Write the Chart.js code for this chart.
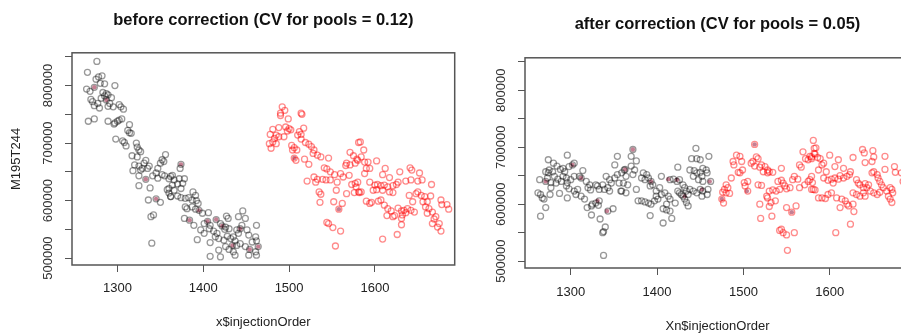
<!DOCTYPE html>
<html>
<head>
<meta charset="utf-8">
<script src="https://cdn.jsdelivr.net/npm/chart.js@4"></script>
<style>
html, body { margin: 0; padding: 0; background: #fff; overflow: hidden; }
#wrap { position: relative; width: 901px; height: 334px; overflow: hidden; }
#wrap canvas { position: absolute; top: 0; }
</style>
</head>
<body>
<div id="wrap">
  <canvas id="before" width="460" height="334" style="left:0"></canvas>
  <canvas id="after" width="460" height="334" style="left:460px"></canvas>
</div>
<script>
// [injectionOrder, M195T244 intensity in thousands]
var beforeBatch1 = [
  [1276,842],[1265,823],[1275,811],[1278,815],[1282,817],[1280,804],[1285,803],[1297,800],[1264,794],[1268,790],
  [1273,797],[1283,788],[1287,786],[1285,782],[1289,784],[1293,779],[1281,778],[1269,776],[1271,772],[1277,769],
  [1273,765],[1279,761],[1287,775],[1291,769],[1295,763],[1289,764],[1302,767],[1304,763],[1307,759],[1266,738],
  [1273,742],[1289,738],[1297,735],[1300,738],[1302,740],[1305,742],[1296,733],[1314,732],[1312,722],[1314,718],
  [1316,717],[1298,707],[1306,704],[1308,701],[1310,695],[1322,700],[1323,693],[1325,688],[1327,685],[1317,678],
  [1323,676],[1356,680],[1320,662],[1325,660],[1331,665],[1333,670],[1329,656],[1335,656],[1337,660],[1318,652],
  [1327,653],[1347,656],[1352,671],[1350,665],[1354,668],[1325,643],[1333,637],[1341,643],[1345,648],[1347,639],
  [1352,645],[1355,643],[1362,642],[1325,626],[1338,622],[1358,619],[1360,613],[1362,607],[1336,601],[1345,603],
  [1350,597],[1339,572],[1342,575],[1340,526],
  [1374,663],[1373,656],[1364,644],[1360,638],[1366,636],[1372,638],[1378,638],[1376,630],[1370,629],[1364,627],
  [1360,621],[1366,618],[1374,621],[1362,607],[1370,608],[1374,605],[1379,604],[1383,605],[1388,615],[1391,609],
  [1387,601],[1392,600],[1394,595],[1379,589],[1381,586],[1387,589],[1391,585],[1395,583],[1399,578],[1406,579],
  [1378,569],[1384,566],[1389,557],[1401,560],[1405,564],[1408,557],[1415,567],[1420,560],[1427,573],[1429,569],
  [1426,554],[1430,551],[1393,532],[1397,549],[1401,543],[1407,551],[1412,547],[1416,543],[1422,556],[1425,550],
  [1408,527],[1414,537],[1418,534],[1424,531],[1428,538],[1432,534],[1435,537],[1437,530],[1441,572],[1446,582],
  [1449,569],[1445,557],[1443,551],[1439,549],[1441,543],[1451,549],[1453,540],[1462,557],[1408,503],[1418,514],
  [1420,502],[1426,520],[1430,515],[1434,522],[1435,511],[1437,505],[1439,522],[1443,525],[1449,520],[1454,515],
  [1457,528],[1461,537],[1462,530],[1464,520],[1461,511],[1462,505],[1453,505]
];
var beforeBatch2 = [
  [1492,763],[1495,757],[1490,752],[1490,748],[1514,752],[1515,750],[1499,742],[1481,724],[1488,727],[1496,728],
  [1500,725],[1502,723],[1498,721],[1478,715],[1485,714],[1488,711],[1494,711],[1483,708],[1481,702],[1477,699],
  [1485,699],[1479,691],[1512,720],[1514,715],[1510,714],[1517,726],[1514,707],[1519,701],[1523,698],[1526,694],
  [1529,688],[1528,682],[1533,679],[1503,696],[1506,692],[1504,688],[1509,688],[1506,674],[1508,670],[1518,672],
  [1523,663],[1537,676],[1546,674],[1541,657],[1544,655],[1548,650],[1553,645],[1560,647],[1563,641],[1570,644],
  [1567,665],[1571,684],[1575,678],[1579,672],[1581,701],[1566,661],[1571,662],[1577,665],[1529,641],[1533,637],
  [1539,637],[1543,636],[1531,632],[1548,636],[1556,632],[1521,634],[1573,628],[1577,630],[1581,615],[1576,614],
  [1535,615],[1537,611],[1555,618],[1567,612],[1536,597],[1552,598],[1562,595],[1558,585],[1544,562],[1546,560],
  [1551,553],[1560,547],[1554,521],
  [1583,702],[1587,688],[1584,676],[1580,670],[1588,667],[1592,667],[1602,669],[1590,656],[1594,656],[1588,647],
  [1580,632],[1578,624],[1612,656],[1609,645],[1617,640],[1629,650],[1641,657],[1643,653],[1652,648],[1594,632],
  [1600,627],[1603,628],[1607,626],[1611,627],[1615,624],[1621,626],[1625,628],[1627,632],[1584,615],[1582,614],
  [1598,618],[1602,619],[1609,618],[1617,615],[1621,614],[1590,599],[1596,597],[1604,599],[1607,601],[1611,592],
  [1594,595],[1615,586],[1619,582],[1623,574],[1621,572],[1627,587],[1631,582],[1634,583],[1636,579],[1638,586],
  [1642,583],[1646,580],[1640,609],[1644,598],[1636,634],[1642,636],[1650,634],[1655,636],[1666,628],[1648,612],
  [1650,615],[1654,609],[1658,607],[1661,598],[1656,598],[1665,608],[1659,589],[1663,586],[1661,578],[1667,580],
  [1671,572],[1675,560],[1673,554],[1677,547],[1667,560],[1669,568],[1677,601],[1678,593],[1632,575],[1631,569],
  [1614,574],[1631,558],[1626,541],[1609,533],[1684,593],[1686,585]
];
var beforePools = [
  [1273,797],[1287,775],[1333,637],[1345,603],[1374,663],[1395,583],[1384,566],[1405,564],[1415,567],[1422,556],
  [1443,551],[1434,522],[1454,515],[1464,520],[1558,585],[1506,674]
];
var afterBatch1 = [
  [1296,686],[1274,678],[1280,672],[1284,667],[1275,660],[1279,657],[1288,661],[1291,663],[1293,657],[1298,666],
  [1302,669],[1304,672],[1271,657],[1274,655],[1273,646],[1264,643],[1271,640],[1277,638],[1281,649],[1285,644],
  [1283,637],[1291,649],[1295,646],[1289,640],[1296,638],[1300,643],[1304,649],[1310,649],[1312,646],[1314,659],
  [1277,629],[1262,620],[1265,617],[1267,611],[1269,609],[1276,617],[1287,619],[1296,611],[1304,623],[1308,626],
  [1306,617],[1312,614],[1271,594],[1265,579],[1295,632],[1298,627],[1318,640],[1322,634],[1320,629],[1323,625],
  [1329,634],[1331,632],[1333,626],[1337,634],[1339,626],[1343,629],[1345,623],[1341,649],[1345,643],[1347,637],
  [1351,646],[1354,652],[1356,637],[1358,623],[1351,669],[1354,684],[1362,660],[1316,609],[1319,594],[1324,597],
  [1325,600],[1329,602],[1333,606],[1332,598],[1343,588],[1349,592],[1324,581],[1334,574],[1340,560],[1338,552],
  [1337,550],[1338,510],
  [1372,696],[1370,684],[1376,676],[1363,661],[1359,655],[1364,649],[1370,667],[1374,660],[1372,652],[1361,637],
  [1366,634],[1359,623],[1364,620],[1376,626],[1384,655],[1388,652],[1390,646],[1386,643],[1382,646],[1393,640],
  [1395,634],[1392,632],[1399,623],[1403,629],[1405,649],[1378,606],[1382,606],[1386,604],[1390,602],[1393,600],
  [1397,606],[1399,614],[1401,609],[1405,617],[1409,620],[1413,614],[1415,609],[1411,600],[1392,580],[1407,592],
  [1411,590],[1415,588],[1417,575],[1407,567],[1421,602],[1424,665],[1415,643],[1419,644],[1423,640],[1426,643],
  [1430,634],[1432,629],[1434,623],[1436,617],[1430,614],[1432,609],[1434,603],[1436,597],[1424,623],[1426,620],
  [1428,617],[1438,626],[1442,623],[1446,620],[1450,626],[1453,623],[1458,617],[1452,614],[1459,626],[1440,680],
  [1445,698],[1446,680],[1450,678],[1460,684],[1438,660],[1443,659],[1446,655],[1450,656],[1453,663],[1457,660],
  [1458,655],[1462,640],[1452,649],[1448,643],[1453,640],[1442,649]
];
var afterBatch2 = [
  [1513,705],[1492,686],[1496,684],[1488,675],[1498,675],[1489,669],[1499,660],[1496,655],[1494,656],[1509,672],
  [1511,675],[1515,683],[1517,680],[1513,667],[1519,665],[1521,669],[1525,666],[1528,660],[1530,657],[1534,656],
  [1523,657],[1528,655],[1486,646],[1480,634],[1482,629],[1478,626],[1480,620],[1484,619],[1476,621],[1475,609],
  [1477,602],[1501,638],[1505,640],[1502,632],[1505,623],[1517,634],[1521,633],[1527,614],[1528,611],[1530,623],
  [1534,625],[1538,623],[1542,626],[1540,640],[1544,642],[1546,637],[1548,632],[1550,627],[1554,629],[1557,643],
  [1559,649],[1563,644],[1565,629],[1571,634],[1575,640],[1577,643],[1581,626],[1579,649],[1532,603],[1537,606],
  [1519,600],[1530,596],[1533,579],[1520,575],[1550,594],[1556,586],[1561,597],[1542,554],[1544,556],[1546,550],
  [1550,546],[1559,550],[1551,519],[1544,663],[1565,669],[1567,665],[1569,692],[1572,680],[1575,678],[1577,684],
  [1579,683],[1582,698],[1583,688],[1581,712],
  [1584,699],[1582,689],[1586,682],[1579,680],[1589,680],[1593,672],[1591,669],[1587,660],[1600,686],[1610,678],
  [1606,666],[1616,663],[1627,682],[1638,696],[1640,690],[1650,694],[1651,683],[1641,673],[1649,675],[1664,684],
  [1664,661],[1675,666],[1676,656],[1596,657],[1593,646],[1598,642],[1602,644],[1604,637],[1606,646],[1610,644],
  [1612,650],[1616,646],[1620,649],[1624,657],[1623,652],[1580,638],[1579,626],[1583,625],[1587,611],[1591,611],
  [1595,610],[1598,617],[1602,620],[1608,611],[1614,609],[1618,606],[1620,600],[1612,594],[1622,597],[1627,600],
  [1631,643],[1633,637],[1635,634],[1639,629],[1641,636],[1643,629],[1645,634],[1649,655],[1651,657],[1655,652],
  [1656,646],[1658,640],[1660,634],[1662,629],[1666,623],[1670,629],[1672,626],[1673,620],[1668,614],[1670,609],
  [1672,603],[1627,620],[1631,617],[1635,614],[1639,620],[1641,614],[1647,623],[1651,620],[1655,617],[1658,621],
  [1628,587],[1624,565],[1607,550],[1683,655],[1685,640]
];
var afterPools = [
  [1302,669],[1271,640],[1312,646],[1331,606],[1342,588],[1372,696],[1363,661],[1393,640],[1413,644],[1423,643],
  [1432,614],[1452,626],[1461,640],[1513,705],[1556,586],[1504,623],[1475,609]
];

var xTicks = [1300, 1400, 1500, 1600];
var yTicks = [500000, 550000, 600000, 650000, 700000, 750000, 800000, 850000];
var yLabels = [500000, 600000, 700000, 800000];
var xRange = [1247, 1693];
var yRange = [488000, 857000];

var font = '"Liberation Sans", Arial, sans-serif';

function toPoints(arr) {
  return arr.map(function(p) { return { x: p[0], y: p[1] * 1000 }; });
}

// R-style box around the plot + rotated y labels
var rBox = {
  id: 'rBox',
  afterDraw: function(chart) {
    var ctx = chart.ctx, a = chart.chartArea, ys = chart.scales.y;
    ctx.save();
    ctx.strokeStyle = '#555';
    ctx.lineWidth = 1.5;
    ctx.strokeRect(a.left, a.top, a.right - a.left, a.bottom - a.top);
    ctx.fillStyle = '#333';
    ctx.font = '13px ' + font;
    ctx.textAlign = 'center';
    ctx.textBaseline = 'middle';
    yLabels.forEach(function(v) {
      ctx.save();
      ctx.translate(a.left - 24, ys.getPixelForValue(v));
      ctx.rotate(-Math.PI / 2);
      ctx.fillText(String(v), 0, 0);
      ctx.restore();
    });
    ctx.restore();
  }
};

function makePanel(id, o) {
  return new Chart(document.getElementById(id), {
    type: 'scatter',
    data: {
      datasets: [
        { data: toPoints(o.b1), borderColor: 'rgba(0,0,0,0.4)', backgroundColor: 'rgba(0,0,0,0)', pointRadius: 3, borderWidth: 1.3 },
        { data: toPoints(o.b2), borderColor: 'rgba(255,0,0,0.45)', backgroundColor: 'rgba(255,0,0,0)', pointRadius: 3, borderWidth: 1.3 },
        { data: toPoints(o.pools), borderColor: 'rgba(140,0,40,0.5)', backgroundColor: 'rgba(140,0,40,0.5)', pointRadius: 2.2, borderWidth: 0 }
      ]
    },
    options: {
      responsive: false,
      animation: false,
      devicePixelRatio: 1,
      layout: { padding: { left: 0, right: o.padRight, top: 0, bottom: 0 } },
      plugins: {
        legend: { display: false },
        tooltip: { enabled: false },
        title: {
          display: true,
          text: o.title,
          fullSize: false,
          color: '#111',
          font: { family: font, size: 16.5, weight: 'bold' },
          padding: o.titlePad
        }
      },
      scales: {
        x: {
          type: 'linear',
          min: xRange[0], max: xRange[1],
          afterBuildTicks: function(s) { s.ticks = xTicks.map(function(v) { return { value: v }; }); },
          afterFit: function(s) { s.height = o.xHeight; },
          grid: { drawOnChartArea: false, drawTicks: true, tickLength: 7, color: '#555', lineWidth: 1 },
          border: { display: false },
          ticks: {
            color: '#222', font: { family: font, size: 13 }, padding: o.tickPad, maxRotation: 0,
            callback: function(v) { return String(v); }
          },
          title: { display: true, text: o.xTitle, color: '#222', font: { family: font, size: 13 }, padding: { top: 0, bottom: o.xTitlePad } }
        },
        y: {
          type: 'linear',
          min: yRange[0], max: yRange[1],
          afterBuildTicks: function(s) { s.ticks = yTicks.map(function(v) { return { value: v }; }); },
          afterFit: function(s) { s.width = o.yWidth; },
          grid: { drawOnChartArea: false, drawTicks: true, tickLength: 7, color: '#555', lineWidth: 1 },
          border: { display: false },
          ticks: { display: false },
          title: { display: !!o.yTitle, text: o.yTitle || '', color: '#222', font: { family: font, size: 13 }, padding: { top: 9, bottom: 0 } }
        }
      }
    },
    plugins: [rBox]
  });
}

makePanel('before', {
  b1: beforeBatch1, b2: beforeBatch2, pools: beforePools,
  title: 'before correction (CV for pools = 0.12)',
  xTitle: 'x$injectionOrder', yTitle: 'M195T244',
  padRight: 3, titlePad: { top: 11, bottom: 22 },
  xHeight: 69, yWidth: 72, tickPad: 9, xTitlePad: 4
});

makePanel('after', {
  b1: afterBatch1, b2: afterBatch2, pools: afterPools,
  title: 'after correction (CV for pools = 0.05)',
  xTitle: 'Xn$injectionOrder', yTitle: '',
  padRight: 10, titlePad: { top: 15, bottom: 23 },
  xHeight: 66, yWidth: 65, tickPad: 10, xTitlePad: 0
});
</script>
</body>
</html>
